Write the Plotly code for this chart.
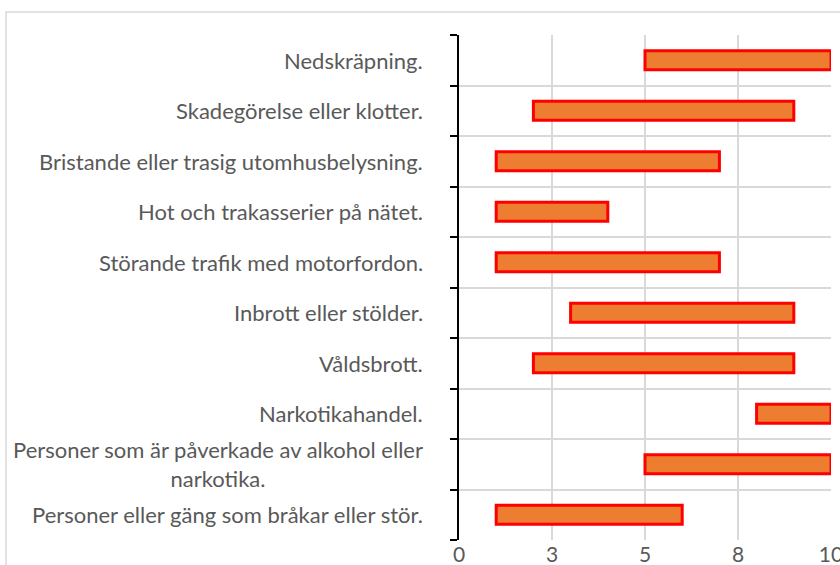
import plotly.graph_objects as go

categories = [
    "Personer eller gäng som bråkar eller stör.",
    "Personer som är påverkade av alkohol eller<br>narkotika.",
    "Narkotikahandel.",
    "Våldsbrott.",
    "Inbrott eller stölder.",
    "Störande trafik med motorfordon.",
    "Hot och trakasserier på nätet.",
    "Bristande eller trasig utomhusbelysning.",
    "Skadegörelse eller klotter.",
    "Nedskräpning.",
]
start_values = [1, 5, 8, 2, 3, 1, 1, 1, 2, 5]
end_values = [6, 10, 10, 9, 9, 7, 4, 7, 9, 10]
x_tick_values = [0, 2.5, 5, 7.5, 10]
x_tick_labels = ["0", "3", "5", "8", "10"]

W, H = 840, 565
L, R, T, B = 459, 831, 35, 540

FONT = "Lato, Carlito, Calibri, sans-serif"

fig = go.Figure()
fig.add_trace(go.Bar(
    y=categories,
    x=[e - s for s, e in zip(start_values, end_values)],
    base=start_values,
    orientation="h",
    width=0.38,
    marker=dict(color="#ED7D31", line=dict(color="#FF0000", width=3)),
    hoverinfo="skip",
))

for c in categories:
    fig.add_annotation(
        x=(425 - L) / (R - L), xref="paper", y=c, yref="y",
        text=c, showarrow=False, xanchor="right", align="center",
        font=dict(family=FONT, size=22, color="#595959"),
    )

# chart border
fig.add_shape(type="rect", xref="paper", yref="paper",
              x0=(6 - L) / (R - L), x1=1.2, y0=-0.3, y1=(B - 12) / (B - T),
              line=dict(color="#d9d9d9", width=1.5), layer="below")

fig.update_layout(
    width=W, height=H,
    margin=dict(l=L, r=W - R, t=T, b=H - B, pad=0, autoexpand=False),
    paper_bgcolor="white", plot_bgcolor="white",
    showlegend=False,
    font=dict(family=FONT, color="#595959"),
    xaxis=dict(
        range=[0, 10], tickvals=x_tick_values, ticktext=x_tick_labels,
        showgrid=True, gridcolor="#d9d9d9", gridwidth=2,
        zeroline=False, showline=False, ticks="", automargin=False,
        ticklabeloverflow="allow",
        tickfont=dict(size=21, color="#595959"),
    ),
    yaxis=dict(
        type="category", categoryorder="array", categoryarray=categories,
        range=[-0.5, len(categories) - 0.5],
        tickson="boundaries", ticks="outside", ticklen=7, tickwidth=2, tickcolor="black",
        showline=True, linecolor="black", linewidth=2,
        showgrid=True, gridcolor="#d9d9d9", gridwidth=2,
        showticklabels=False, automargin=False,
    ),
)

fig.write_html(
    "out.html",
    config={"displayModeBar": False},
    post_script="document.body.style.margin='0';document.body.style.overflow='hidden';",
)
